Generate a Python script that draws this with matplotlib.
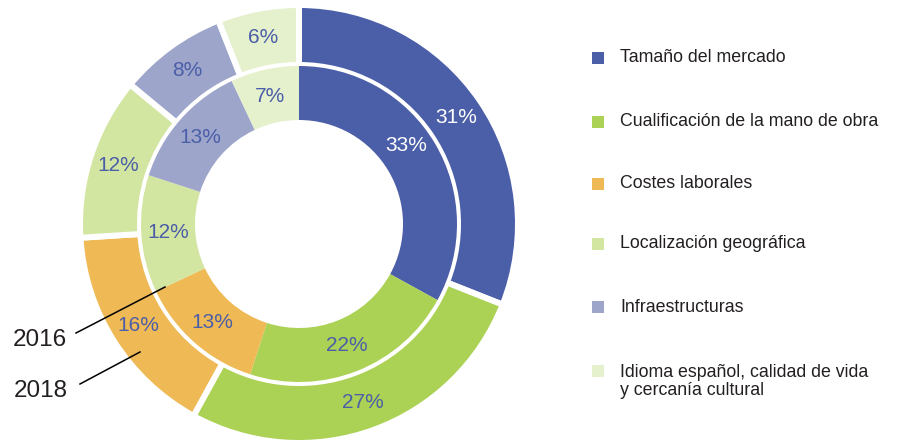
import matplotlib
matplotlib.use("Agg")
import matplotlib.pyplot as plt
from matplotlib.patches import Rectangle

plt.rcParams['font.family'] = ['Liberation Sans', 'DejaVu Sans']

categories = ["Tamaño del mercado", "Cualificación de la mano de obra", "Costes laborales",
              "Localización geográfica", "Infraestructuras",
              "Idioma español, calidad de vida\ny cercanía cultural"]
values_2018 = [31, 27, 16, 12, 8, 6]
values_2016 = [33, 22, 13, 12, 13, 7]
colors = ["#4b5ea8", "#abd155", "#efb955", "#d2e6a1", "#9ea5cb", "#e5f0cc"]
label_color = "#4b5ea8"

W, H = 899, 442
fig = plt.figure(figsize=(W / 100, H / 100), dpi=100)
ax = fig.add_axes([0, 0, 1, 1])

cx, cy = 299, H - 224
gap_pt = 6 * 72 / 100

# outer ring: 2018
w_out, t_out, a_out = ax.pie(values_2018, radius=219, center=(cx, cy), startangle=90,
                             counterclock=False, colors=colors,
                             wedgeprops=dict(width=60, edgecolor='white', linewidth=gap_pt),
                             autopct=lambda p: f"{p:.0f}%", pctdistance=190 / 219,
                             textprops=dict(fontsize=15, color=label_color))
# inner ring: 2016
w_in, t_in, a_in = ax.pie(values_2016, radius=158, center=(cx, cy), startangle=90,
                          counterclock=False, colors=colors,
                          wedgeprops=dict(width=54, linewidth=0),
                          autopct=lambda p: f"{p:.0f}%", pctdistance=131 / 158,
                          textprops=dict(fontsize=15, color=label_color))
a_out[0].set_color('white')
a_in[0].set_color('white')
# the first inner label sits a bit further up the wedge in the reference
x0, y0 = a_in[0].get_position()
a_in[0].set_position((x0 - 6, y0 + 12))

ax.set_xlim(0, W)
ax.set_ylim(0, H)
ax.set_aspect('equal')
ax.axis('off')

# year callouts
ax.text(40, H - 340, "2016", fontsize=17.5, color="#231f20", ha='center', va='center')
ax.text(41, H - 391, "2018", fontsize=17.5, color="#231f20", ha='center', va='center')
ax.plot([76, 165], [H - 333, H - 287], color='black', lw=1.1)
ax.plot([80, 140], [H - 384, H - 352], color='black', lw=1.1)

# legend
ys = [58, 122, 184, 244, 307, 371]
for y, c, lab in zip(ys, colors, categories):
    ax.add_patch(Rectangle((592, H - y - 6), 12, 12, facecolor=c, edgecolor='none'))
    nlines = lab.count('\n') + 1
    yc = y + (nlines - 1) * 21 / 2
    ax.text(620, H - yc, lab, fontsize=12.8, color="#231f20", ha='left', va='center',
            linespacing=1.12)

fig.savefig("out.png", dpi=100)
